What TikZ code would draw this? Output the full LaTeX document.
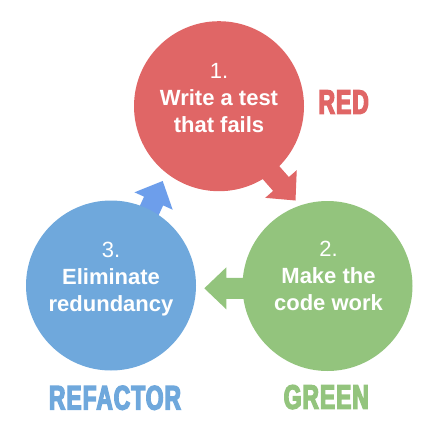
\documentclass[tikz,border=0pt]{standalone}
\usepackage{fontspec}
\setmainfont{Liberation Sans}
\newfontfamily\labelfont[FakeStretch=0.67,FakeBold=4,LetterSpace=3]{Liberation Sans Bold}
\definecolor{redc}{HTML}{E06666}
\definecolor{greenc}{HTML}{93C47D}
\definecolor{bluec}{HTML}{6FA8DC}
\definecolor{bluea}{HTML}{6D9EEB}
\tikzset{
  stepcircle/.style={circle, minimum size=170pt, inner sep=0pt},
  steptext/.style={text=white, align=center, inner sep=0pt, font=\fontsize{22}{27}\selectfont\bfseries},
  phaselabel/.style={anchor=base, inner sep=0pt, font=\fontsize{34}{34}\selectfont\labelfont},
  fatarrow/.pic={\fill[pic actions] (0,0) -- (-22,-21) -- (-22,-10.5) -- (-62,-10.5) -- (-62,10.5) -- (-22,10.5) -- (-22,21) -- cycle;}
}
\begin{document}
\begin{tikzpicture}[x=1pt,y=-1pt]
\useasboundingbox (0,0) rectangle (437,437);
% arrow tips
\coordinate (rtip) at (295.5,200.5);
\coordinate (gtip) at (204.3,288.3);
\coordinate (btip) at (162.7,181);
\pic[fill=redc, rotate=-48.7] at (rtip) {fatarrow};
\pic[fill=greenc, rotate=180] at (gtip) {fatarrow};
\pic[fill=bluea, rotate=65.5] at (btip) {fatarrow};
% circles
\node[stepcircle, fill=redc] (red) at (219,106.2) {};
\node[stepcircle, fill=greenc] (green) at (327.5,286) {};
\node[stepcircle, fill=bluec] (blue) at (111,285.5) {};
% texts
\node[steptext] (redtxt) at (219,98.1) {{\mdseries 1.}\\Write a test\\that fails};
\node[steptext] (greentxt) at (328.5,276.1) {{\mdseries 2.}\\Make the\\code work};
\node[steptext] (bluetxt) at (111,279.4) {{\mdseries 3.}\\Eliminate\\redundancy};
% labels
\node[phaselabel, text=redc] (redlab) at (343.7,113.8) {RED};
\node[phaselabel, text=greenc] (greenlab) at (326.3,408.8) {GREEN};
\node[phaselabel, text=bluec] (bluelab) at (115,409.5) {REFACTOR};
\end{tikzpicture}
\end{document}
